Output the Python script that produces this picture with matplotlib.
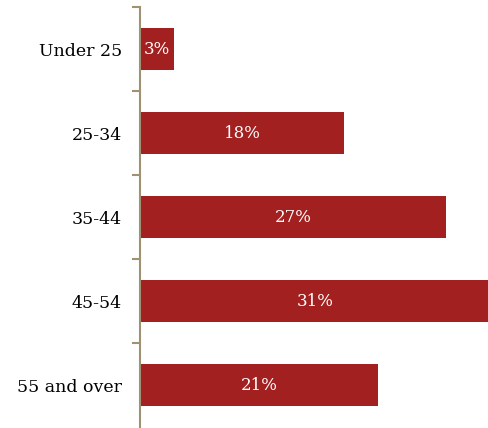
import matplotlib.pyplot as plt
import numpy as np

age_groups = ['Under 25', '25-34', '35-44', '45-54', '55 and over']
shares = [3, 18, 27, 31, 21]
share_labels = ['3%', '18%', '27%', '31%', '21%']

bar_color = '#A32020'
axis_color = '#9E9273'

plt.rcParams['font.family'] = ['DejaVu Serif']

fig = plt.figure(figsize=(4.89, 4.28), dpi=100)
ax = fig.add_axes([140 / 489, 1 - 427 / 428, 1 - 140 / 489, 420 / 428])

y = np.arange(len(age_groups))
ax.barh(y, shares, height=0.49, color=bar_color)

for yi, val, lab in zip(y, shares, share_labels):
    ax.text(val / 2, yi, lab, ha='center', va='center', color='white', fontsize=12)

ax.set_xlim(0, 30.8)
ax.set_ylim(len(age_groups) - 0.5, -0.5)

ax.set_yticks(y)
ax.set_yticklabels(age_groups, fontsize=12.5)
ax.tick_params(axis='y', which='major', length=0, pad=13)
ax.set_yticks(np.arange(-0.5, len(age_groups) - 0.5, 1), minor=True)
ax.tick_params(axis='y', which='minor', length=6, width=1.5, color=axis_color)
ax.set_xticks([])

for side in ['top', 'right', 'bottom']:
    ax.spines[side].set_visible(False)
ax.spines['left'].set_color(axis_color)
ax.spines['left'].set_linewidth(1.5)

fig.savefig('out.png', dpi=100)
